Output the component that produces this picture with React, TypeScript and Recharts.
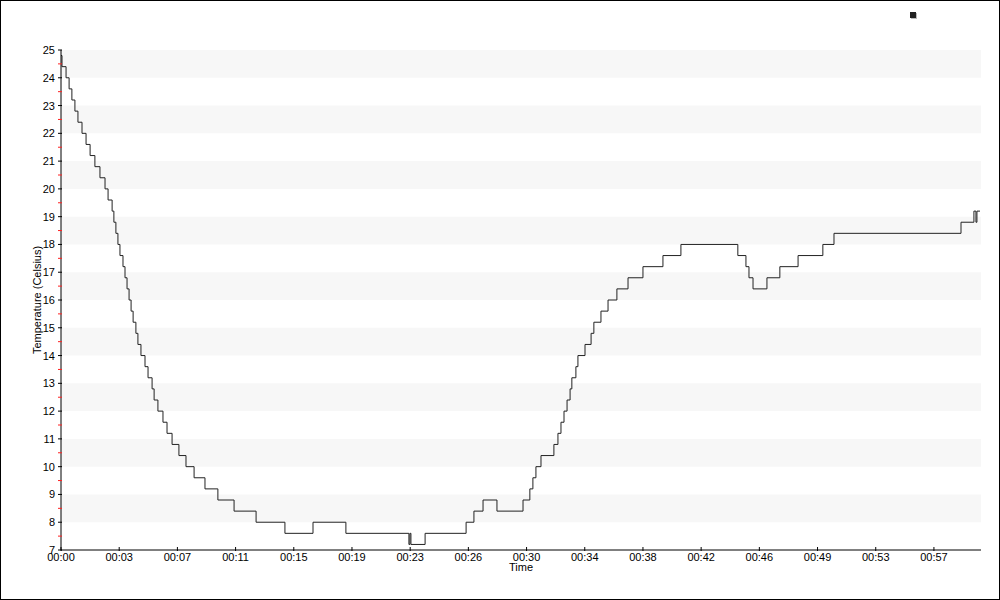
import React from 'react';
import {
  Legend,
  Line,
  LineChart,
  ReferenceArea,
  XAxis,
  YAxis,
} from 'recharts';

// time since start (seconds) where the reading changes, and the new reading
const timeSec = [
  0, 4, 20, 32, 43, 55, 67, 83, 99, 115, 134, 154, 174, 186, 202, 209, 217,
  225, 233, 245, 253, 261, 269, 277, 285, 296, 304, 316, 332, 344, 360, 368,
  383, 403, 419, 439, 466, 494, 526, 569, 620, 684, 771, 885, 996, 1126, 1375,
  1379, 1383, 1439, 1601, 1632, 1668, 1723, 1826, 1853, 1865, 1877, 1897,
  1948, 1964, 1976, 1988, 2000, 2012, 2019, 2035, 2043, 2071, 2095, 2106,
  2134, 2162, 2197, 2241, 2300, 2379, 2450, 2675, 2707, 2719, 2735, 2790,
  2841, 2913, 3011, 3055, 3557, 3608, 3616, 3620, 3632,
];
const tempC = [
  24.8, 24.4, 24.0, 23.6, 23.2, 22.8, 22.4, 22.0, 21.6, 21.2, 20.8, 20.4,
  20.0, 19.6, 19.2, 18.8, 18.4, 18.0, 17.6, 17.2, 16.8, 16.4, 16.0, 15.6,
  15.2, 14.8, 14.4, 14.0, 13.6, 13.2, 12.8, 12.4, 12.0, 11.6, 11.2, 10.8,
  10.4, 10.0, 9.6, 9.2, 8.8, 8.4, 8.0, 7.6, 8.0, 7.6, 7.2, 7.6, 7.2, 7.6,
  8.0, 8.4, 8.8, 8.4, 8.8, 9.2, 9.6, 10.0, 10.4, 10.8, 11.2, 11.6, 12.0,
  12.4, 12.8, 13.2, 13.6, 14.0, 14.4, 14.8, 15.2, 15.6, 16.0, 16.4, 16.8,
  17.2, 17.6, 18.0, 17.6, 17.2, 16.8, 16.4, 16.8, 17.2, 17.6, 18.0, 18.4,
  18.8, 19.2, 18.8, 19.2, 19.2,
];

const xTicks = [
  0, 230, 460, 690, 920, 1150, 1380, 1610, 1840, 2070, 2300, 2530, 2760,
  2990, 3220, 3450,
];
const yTicks = [
  7, 7.5, 8, 8.5, 9, 9.5, 10, 10.5, 11, 11.5, 12, 12.5, 13, 13.5, 14, 14.5,
  15, 15.5, 16, 16.5, 17, 17.5, 18, 18.5, 19, 19.5, 20, 20.5, 21, 21.5, 22,
  22.5, 23, 23.5, 24, 24.5, 25,
];
// lower bound of each shaded one-degree band
const bandStarts = [8, 10, 12, 14, 16, 18, 20, 22, 24];

const data = timeSec.map((t, i) => ({ t, temp: tempC[i] }));

const pad = (n: number) => String(n).padStart(2, '0');
const fmtTime = (s: number) =>
  `${pad(Math.floor(s / 3600))}:${pad(Math.floor(s / 60) % 60)}`;

const YTick = (props: any) => {
  const { x, y, payload } = props;
  const v = payload.value;
  const major = Number.isInteger(v);
  return (
    <g>
      <line x1={x - 3} x2={x + 1} y1={y} y2={y} stroke={major ? '#000' : '#ff2020'} />
      {major && (
        <text x={x - 6} y={y + 4} textAnchor='end' fontSize={11} fill='#000'>
          {v}
        </text>
      )}
    </g>
  );
};

const XTick = (props: any) => {
  const { x, y, payload } = props;
  return (
    <g>
      <line x1={x} x2={x} y1={y - 3} y2={y + 1} stroke='#000' />
      <text x={x} y={y + 11} textAnchor='middle' fontSize={11} fill='#000'>
        {fmtTime(payload.value)}
      </text>
    </g>
  );
};

const LegendSquares = (props: any) => (
  <div>
    {(props.payload || []).map((entry: any) => (
      <div
        key={entry.value}
        style={{
          width: 6,
          height: 6,
          background: entry.color,
          boxShadow: '1px 1px 0 #bbb',
        }}
      />
    ))}
  </div>
);

export default function App() {
  return (
    <div
      style={{
        position: 'absolute',
        left: 0,
        top: 0,
        width: 1000,
        height: 600,
        boxSizing: 'border-box',
        border: '1px solid #000',
        background: '#fff',
        fontFamily: '"Liberation Sans", Arial, sans-serif',
      }}
    >
      <LineChart
        width={998}
        height={598}
        data={data}
        margin={{ top: 49, right: 18, bottom: 0, left: 0 }}
      >
        {bandStarts.map((b) => (
          <ReferenceArea
            key={b}
            y1={b}
            y2={b + 1}
            fill='#f7f7f7'
            fillOpacity={1}
            stroke='none'
            ifOverflow='hidden'
          />
        ))}
        <XAxis
          dataKey='t'
          type='number'
          domain={[0, 3636]}
          ticks={xTicks}
          interval={0}
          height={49}
          tickSize={0}
          tickMargin={0}
          tickLine={false}
          tick={<XTick />}
          axisLine={{ stroke: '#000' }}
          label={{
            content: (p: any) => (
              <text
                x={p.viewBox.x + p.viewBox.width / 2}
                y={p.viewBox.y + 21}
                textAnchor='middle'
                fontSize={11}
                fill='#000'
              >
                Time
              </text>
            ),
          }}
        />
        <YAxis
          type='number'
          domain={[7, 25]}
          ticks={yTicks}
          interval={0}
          width={60}
          tickSize={0}
          tickMargin={0}
          tickLine={false}
          tick={<YTick />}
          axisLine={{ stroke: '#000' }}
          label={{
            content: (p: any) => {
              const cx = p.viewBox.x + 36;
              const cy = p.viewBox.y + p.viewBox.height / 2;
              return (
                <text
                  x={cx}
                  y={cy}
                  transform={`rotate(-90 ${cx} ${cy})`}
                  textAnchor='middle'
                  dominantBaseline='central'
                  fontSize={11}
                  fill='#000'
                >
                  Temperature (Celsius)
                </text>
              );
            },
          }}
        />
        <Legend
          layout='horizontal'
          align='center'
          verticalAlign='middle'
          content={<LegendSquares />}
          wrapperStyle={{ left: 909, top: 11, width: 8, height: 8 }}
        />
        <Line
          type='stepAfter'
          dataKey='temp'
          name='Temperature'
          stroke='#222'
          strokeWidth={1}
          dot={false}
          activeDot={false}
          legendType='square'
          isAnimationActive={false}
        />
      </LineChart>
    </div>
  );
}
